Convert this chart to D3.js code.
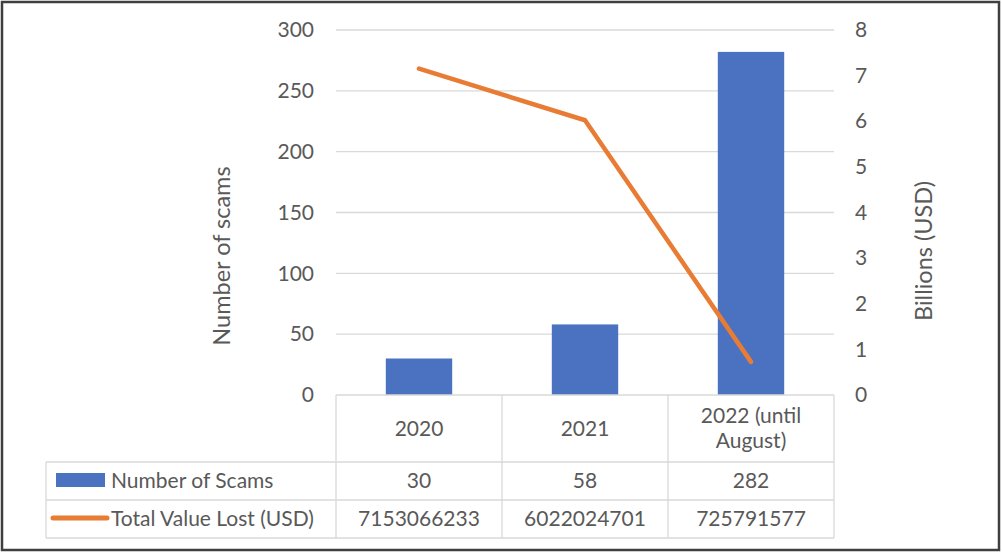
<!DOCTYPE html>
<html>
<head>
<meta charset="utf-8">
<script src="https://cdn.jsdelivr.net/npm/d3@7.9.0/dist/d3.min.js"></script>
<style>
  html, body { margin: 0; padding: 0; background: #fff; }
  svg { display: block; }
  text { font-family: Lato, "Open Sans", sans-serif; fill: #595959; }
</style>
</head>
<body>
<svg id="chart" width="1002" height="554"></svg>
<script>
// data
const categories = ["2020", "2021", "2022 (until August)"];
const categoryLines = [["2020"], ["2021"], ["2022 (until", "August)"]];
const scams = [30, 58, 282];
const valueLost = [7153066233, 6022024701, 725791577];
const leftTicks = [0, 50, 100, 150, 200, 250, 300];
const rightTicks = [0, 1, 2, 3, 4, 5, 6, 7, 8];

const barColor = "#4a72c0";
const lineColor = "#E97C35";
const gridColor = "#d9d9d9";
const fontSize = 21;

const svg = d3.select('#chart');

// outer frame
svg.append('rect')
    .attr('x', 2).attr('y', 2).attr('width', 997).attr('height', 548)
    .attr('fill', 'none').attr('stroke', '#3f3f3f').attr('stroke-width', 2.5);

const plot = { left: 336, right: 834, top: 30, bottom: 395 };

let x = d3.scaleBand().domain(categories).range([plot.left, plot.right]).padding(0);
let yLeft = d3.scaleLinear().domain([0, 300]).range([plot.bottom, plot.top]);
let yRight = d3.scaleLinear().domain([0, 8]).range([plot.bottom, plot.top]);

// gridlines
svg.append('g')
    .selectAll('line')
    .data(leftTicks.filter(d => d > 0))
    .enter()
    .append('line')
    .attr('x1', plot.left).attr('x2', plot.right)
    .attr('y1', d => yLeft(d)).attr('y2', d => yLeft(d))
    .attr('stroke', gridColor).attr('stroke-width', 1.3);

// left axis
let leftAxis = svg.append('g')
    .attr('transform', `translate(${plot.left - 22},0)`)
    .call(d3.axisLeft(yLeft).tickValues(leftTicks).tickSize(0).tickPadding(0));
leftAxis.select('.domain').remove();
leftAxis.selectAll('text').attr('font-size', fontSize).style('fill', '#595959')
    .style('font-family', 'Lato, sans-serif');

// right axis
let rightAxis = svg.append('g')
    .attr('transform', `translate(${plot.right + 21},0)`)
    .call(d3.axisRight(yRight).tickValues(rightTicks).tickSize(0).tickPadding(0));
rightAxis.select('.domain').remove();
rightAxis.selectAll('text').attr('font-size', fontSize).style('fill', '#595959')
    .style('font-family', 'Lato, sans-serif');

// axis titles
svg.append('text')
    .attr('transform', `translate(230,256) rotate(-90)`)
    .attr('text-anchor', 'middle')
    .attr('font-size', 23.5)
    .text('Number of scams');

svg.append('text')
    .attr('transform', `translate(932,251) rotate(-90)`)
    .attr('text-anchor', 'middle')
    .attr('font-size', 23.5)
    .text('Billions (USD)');

// bars
let barWidth = x.bandwidth() * 0.4;
svg.append('g')
    .selectAll('rect')
    .data(scams)
    .enter()
    .append('rect')
    .attr('x', (d, i) => x(categories[i]) + (x.bandwidth() - barWidth) / 2)
    .attr('y', d => yLeft(d))
    .attr('width', barWidth)
    .attr('height', d => yLeft(0) - yLeft(d))
    .attr('fill', barColor);

// line
let line = d3.line()
    .x((d, i) => x(categories[i]) + x.bandwidth() / 2)
    .y(d => yRight(d / 1e9));

svg.append('path')
    .datum(valueLost)
    .attr('d', line)
    .attr('fill', 'none')
    .attr('stroke', lineColor)
    .attr('stroke-width', 4.5)
    .attr('stroke-linecap', 'round')
    .attr('stroke-linejoin', 'round');

// data table
const table = { left: 46, header: 462, row1: 500, row2: 538 };
let tg = svg.append('g').attr('stroke', gridColor).attr('stroke-width', 1.3);
// horizontal lines
tg.append('line').attr('x1', plot.left).attr('x2', plot.right).attr('y1', plot.bottom).attr('y2', plot.bottom);
[table.header, table.row1, table.row2].forEach(yy => {
    tg.append('line').attr('x1', table.left).attr('x2', plot.right).attr('y1', yy).attr('y2', yy);
});
// vertical lines
tg.append('line').attr('x1', table.left).attr('x2', table.left).attr('y1', table.header).attr('y2', table.row2);
categories.forEach((c, i) => {
    tg.append('line').attr('x1', x(c)).attr('x2', x(c)).attr('y1', plot.bottom).attr('y2', table.row2);
});
tg.append('line').attr('x1', plot.right).attr('x2', plot.right).attr('y1', plot.bottom).attr('y2', table.row2);

// category labels
categoryLines.forEach((lines, i) => {
    let cx = x(categories[i]) + x.bandwidth() / 2;
    let cy = (plot.bottom + table.header) / 2;
    let lh = 25;
    let t = svg.append('text')
        .attr('text-anchor', 'middle')
        .attr('font-size', fontSize);
    lines.forEach((l, j) => {
        t.append('tspan')
            .attr('x', cx)
            .attr('y', cy + 7 + (j - (lines.length - 1) / 2) * lh)
            .text(l);
    });
});

// row values
function rowText(values, yMid) {
    svg.append('g')
        .selectAll('text')
        .data(values)
        .enter()
        .append('text')
        .attr('x', (d, i) => x(categories[i]) + x.bandwidth() / 2)
        .attr('y', yMid + 7)
        .attr('text-anchor', 'middle')
        .attr('font-size', fontSize)
        .text(d => d);
}
rowText(scams, (table.header + table.row1) / 2);
rowText(valueLost, (table.row1 + table.row2) / 2);

// legend keys in the table
svg.append('rect')
    .attr('x', 56).attr('y', 473).attr('width', 49).attr('height', 14)
    .attr('fill', barColor);
svg.append('line')
    .attr('x1', 53).attr('x2', 107).attr('y1', 518).attr('y2', 518)
    .attr('stroke', lineColor).attr('stroke-width', 5).attr('stroke-linecap', 'round');

svg.append('text').attr('x', 111).attr('y', 488).attr('font-size', fontSize).text('Number of Scams');
svg.append('text').attr('x', 111).attr('y', 526).attr('font-size', fontSize).text('Total Value Lost (USD)');
</script>
</body>
</html>
